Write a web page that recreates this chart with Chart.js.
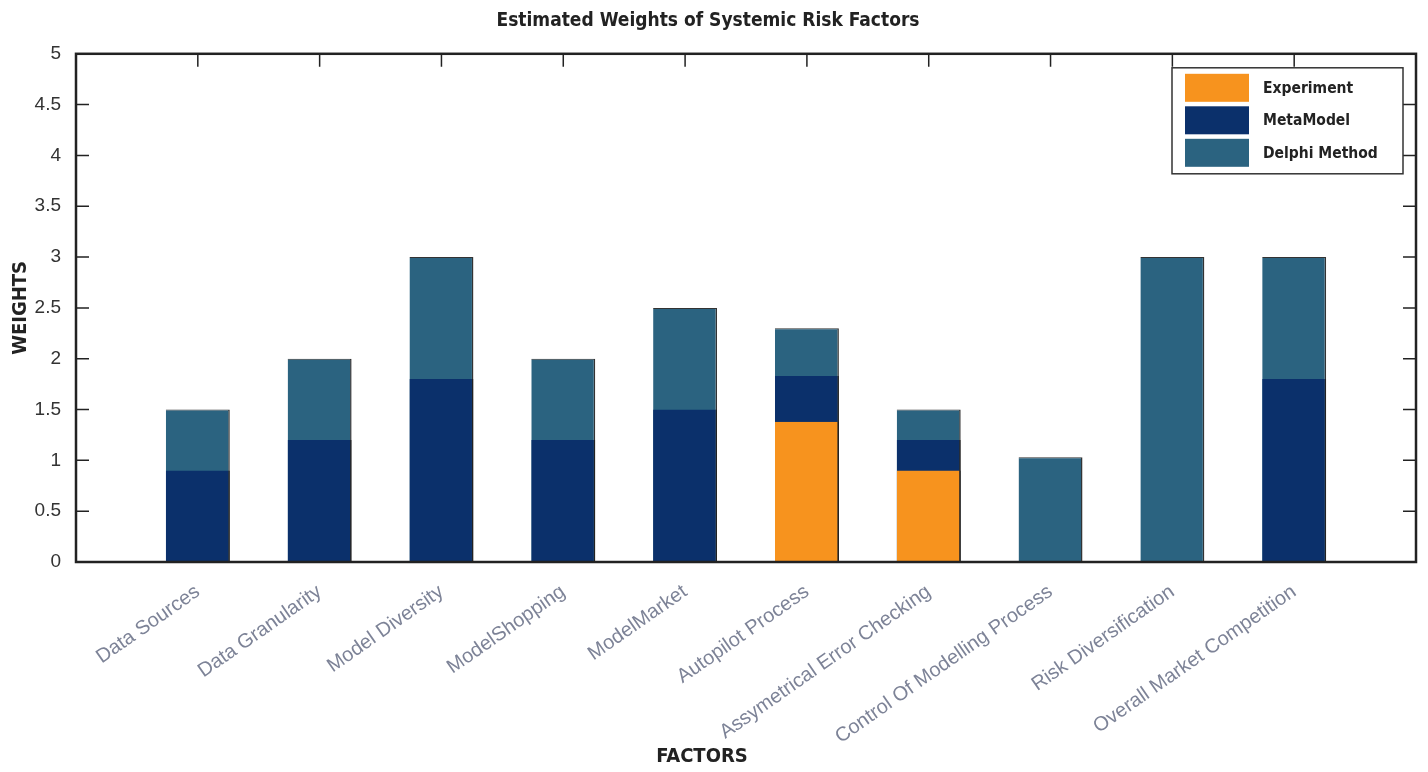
<!DOCTYPE html>
<html>
<head>
<meta charset="utf-8">
<script src="https://cdn.jsdelivr.net/npm/chart.js@4.4.1/dist/chart.umd.min.js"></script>
<style>
  html, body { margin: 0; padding: 0; background: #fff; }
  #wrap { width: 1428px; height: 772px; }
</style>
</head>
<body>
<div id="wrap"><canvas id="chart"></canvas></div>
<script>
// Weights (overlapping bars, drawn from the axis up)
const factors = [
  "Data Sources", "Data Granularity", "Model Diversity", "ModelShopping", "ModelMarket",
  "Autopilot Process", "Assymetrical Error Checking", "Control Of Modelling Process",
  "Risk Diversification", "Overall Market Competition"
];
const experiment = [null, null, null, null, null, 1.38, 0.9, null, null, null];
const metaModel = [0.9, 1.2, 1.8, 1.2, 1.5, 1.83, 1.2, null, null, 1.8];
const delphi = [1.5, 2.0, 3.0, 2.0, 2.5, 2.3, 1.5, 1.03, 3.0, 3.0];

const condensed = "'Liberation Sans Narrow', 'DejaVu Sans Condensed', 'Liberation Sans', sans-serif";
const plain = "'Liberation Sans', Arial, sans-serif";

// empty slot at each end so the bars sit one full step in from the frame
const pad = arr => [null, ...arr, null];
const labels = ["", ...factors, ""];

// frame plus inward ticks on all four sides
const framePlugin = {
  id: "frame",
  afterDatasetsDraw(chart) {
    const { ctx, chartArea: a, scales } = chart;
    const tick = 13;
    ctx.save();
    ctx.strokeStyle = "#222";
    ctx.lineWidth = 1.5;
    ctx.beginPath();
    scales.y.ticks.forEach(t => {
      const y = scales.y.getPixelForValue(t.value);
      ctx.moveTo(a.left, y); ctx.lineTo(a.left + tick, y);
      ctx.moveTo(a.right, y); ctx.lineTo(a.right - tick, y);
    });
    for (let i = 1; i <= factors.length; i++) {
      const x = scales.x.getPixelForValue(i);
      ctx.moveTo(x, a.top); ctx.lineTo(x, a.top + tick);
    }
    ctx.stroke();
    ctx.lineWidth = 2.5;
    ctx.strokeRect(a.left, a.top, a.right - a.left, a.bottom - a.top);
    ctx.restore();
  }
};

// boxed legend in the upper right corner of the plot, and the x axis title
const boxLegend = {
  id: "boxLegend",
  afterDraw(chart) {
    const { ctx, chartArea: a } = chart;
    const order = [0, 1, 2];
    const boxW = 231, boxH = 106;
    const x0 = a.right - 13 - boxW, y0 = a.top + 14;
    ctx.save();
    ctx.fillStyle = "#fff";
    ctx.fillRect(x0, y0, boxW, boxH);
    ctx.strokeStyle = "#333";
    ctx.lineWidth = 1.5;
    ctx.strokeRect(x0, y0, boxW, boxH);
    ctx.font = "bold 15.5px " + condensed;
    ctx.textBaseline = "middle";
    order.forEach((di, i) => {
      const ds = chart.data.datasets[di];
      const y = y0 + 6 + i * 32.5;
      ctx.fillStyle = ds.backgroundColor;
      ctx.fillRect(x0 + 13, y, 64, 28);
      ctx.fillStyle = "#222";
      ctx.fillText(ds.label, x0 + 91, y + 15);
    });

    ctx.font = "bold 20px " + condensed;
    ctx.textAlign = "center";
    ctx.fillStyle = "#222";
    ctx.fillText("FACTORS", 702, chart.height - 15);
    ctx.restore();
  }
};

new Chart(document.getElementById("chart"), {
  type: "bar",
  data: {
    labels: labels,
    datasets: [
      {
        label: "Experiment",
        data: pad(experiment),
        backgroundColor: "#F7931E",
        borderColor: "#222",
        borderWidth: { right: 1.5 },
        borderSkipped: false,
        order: 0
      },
      {
        label: "MetaModel",
        data: pad(metaModel),
        backgroundColor: "#0B306B",
        borderColor: "#222",
        borderWidth: { right: 1.5 },
        borderSkipped: false,
        order: 1
      },
      {
        label: "Delphi Method",
        data: pad(delphi),
        backgroundColor: "#2B6380",
        borderColor: "#333",
        borderWidth: { right: 1.5, top: 1 },
        borderSkipped: false,
        order: 2
      }
    ]
  },
  options: {
    responsive: true,
    maintainAspectRatio: false,
    animation: false,
    layout: { padding: { left: 0, right: 12, top: 0, bottom: 0 } },
    datasets: {
      bar: { grouped: false, categoryPercentage: 1, barPercentage: 0.525 }
    },
    plugins: {
      legend: { display: false },
      tooltip: { enabled: false },
      title: {
        display: true,
        text: "Estimated Weights of Systemic Risk Factors",
        color: "#222",
        font: { family: condensed, size: 19, weight: "bold" },
        padding: { top: 10, bottom: 21 }
      }
    },
    scales: {
      x: {
        offset: false,
        grid: { display: false },
        border: { display: false },
        ticks: {
          autoSkip: false,
          minRotation: 35,
          maxRotation: 35,
          padding: 10,
          color: "#7D8397",
          font: { family: plain, size: 20 }
        },
        afterFit: s => { s.height = 210; s.paddingRight = 0; s.paddingLeft = 0; }
      },
      y: {
        min: 0,
        max: 5,
        grid: { display: false },
        border: { display: false },
        ticks: {
          stepSize: 0.5,
          padding: 7,
          color: "#333",
          font: { family: plain, size: 19 },
          callback: v => String(Number(v))
        },
        title: {
          display: true,
          text: "WEIGHTS",
          color: "#222",
          font: { family: condensed, size: 20, weight: "bold" },
          padding: { top: 9, bottom: 0 }
        },
        afterFit: s => { s.width = 76; }
      }
    }
  },
  plugins: [framePlugin, boxLegend]
});
</script>
</body>
</html>
